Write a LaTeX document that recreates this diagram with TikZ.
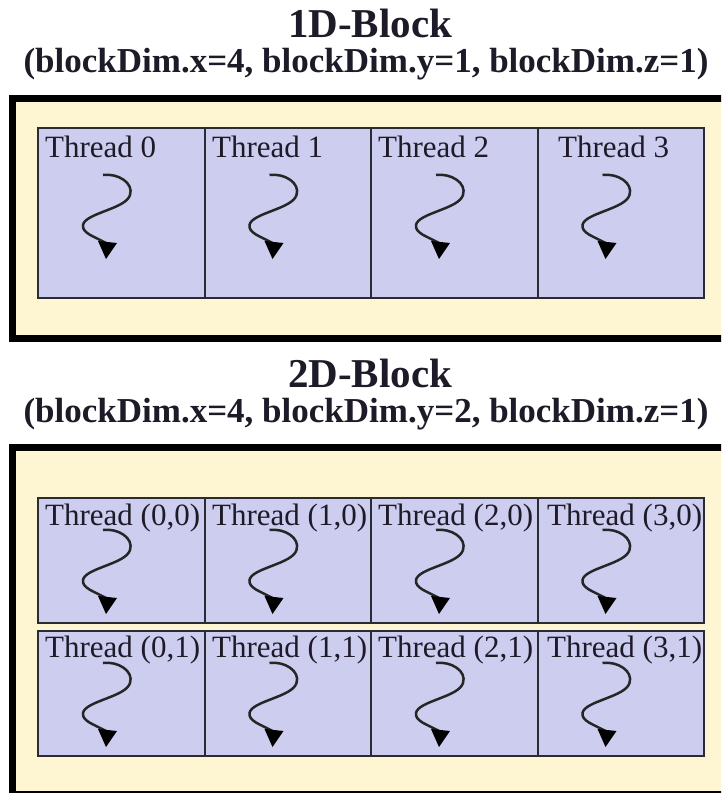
\documentclass[tikz,border=0pt]{standalone}
\usepackage{fontspec}
\setmainfont{Liberation Serif}
\usetikzlibrary{calc}

\definecolor{blockbg}{HTML}{FEF6D2}
\definecolor{threadbg}{HTML}{CDCDF0}
\definecolor{threadline}{HTML}{2B2B33}
\definecolor{inktext}{HTML}{1E1A28}

\tikzset{
  blockframe/.style={draw=black, line width=7pt, fill=blockbg, inner sep=0pt},
  threadbox/.style={draw=threadline, line width=2pt, fill=threadbg, inner sep=0pt},
  threadlabel/.style={anchor=base west, inner sep=0pt, text=inktext,
    font=\fontsize{31}{31}\selectfont},
  blocktitle/.style={anchor=base, inner sep=0pt, text=inktext,
    font=\fontsize{41}{41}\selectfont\bfseries},
  blocksub/.style={anchor=base, inner sep=0pt, text=inktext,
    font=\fontsize{35}{35}\selectfont\bfseries},
  squiggle/.style={draw=black!85, line width=2.5pt},
  % wavy thread arrow, origin at its upper end
  pics/warp/.style={code={
    \draw[squiggle] (0,0) .. controls (15,-2) and (31,8) .. (27,20)
      .. controls (23,34) and (-18,38) .. (-20,50)
      .. controls (-21,58) and (-10,61) .. (3,68);
    \fill[black] (-5,66) -- (14,68) -- (3,84) -- cycle;
  }}
}

\begin{document}
\begin{tikzpicture}[x=1pt, y=-1pt]
  \useasboundingbox[fill=white] (0,0) rectangle (721,793);
  \clip (0,0) rectangle (721,793);

  % ---------- 1D block ----------
  \node[blocktitle] (title1) at (370,37) {1D-Block};
  \node[blocksub] (sub1) at (366,72) {(blockDim.x=4, blockDim.y=1, blockDim.z=1)};
  \node[blockframe, anchor=north west, minimum width=721.5pt, minimum height=240pt]
    (blk1) at (8.5,95) {};

  \foreach \i/\x/\pad in {0/37/8, 1/203.5/8.5, 2/370/8, 3/536.5/21.5} {
    \node[threadbox, anchor=north west, minimum width=166.5pt, minimum height=170pt]
      (a\i) at (\x,127) {};
    \node[threadlabel] (la\i) at ($(a\i.north west)+(\pad,30)$) {Thread \i};
    \pic at ($(a\i.north west)+(66,48)$) {warp};
  }

  % ---------- 2D block ----------
  \node[blocktitle] (title2) at (370,387) {2D-Block};
  \node[blocksub] (sub2) at (366,422) {(blockDim.x=4, blockDim.y=2, blockDim.z=1)};
  \node[blockframe, anchor=north west, minimum width=721.5pt, minimum height=347pt]
    (blk2) at (8.5,443.5) {};

  \foreach \r/\yy/\ty in {0/497/28, 1/630/27} {
    \foreach \c/\x/\pad in {0/37/8, 1/203.5/8.5, 2/370/8, 3/536.5/10.5} {
      \node[threadbox, anchor=north west, minimum width=166.5pt, minimum height=124.5pt]
        (b\c\r) at (\x,\yy) {};
      \node[threadlabel] (lb\c\r) at ($(b\c\r.north west)+(\pad,\ty)$) {Thread (\c,\r)};
      \pic at ($(b\c\r.north west)+(66,33)$) {warp};
    }
  }
\end{tikzpicture}
\end{document}
